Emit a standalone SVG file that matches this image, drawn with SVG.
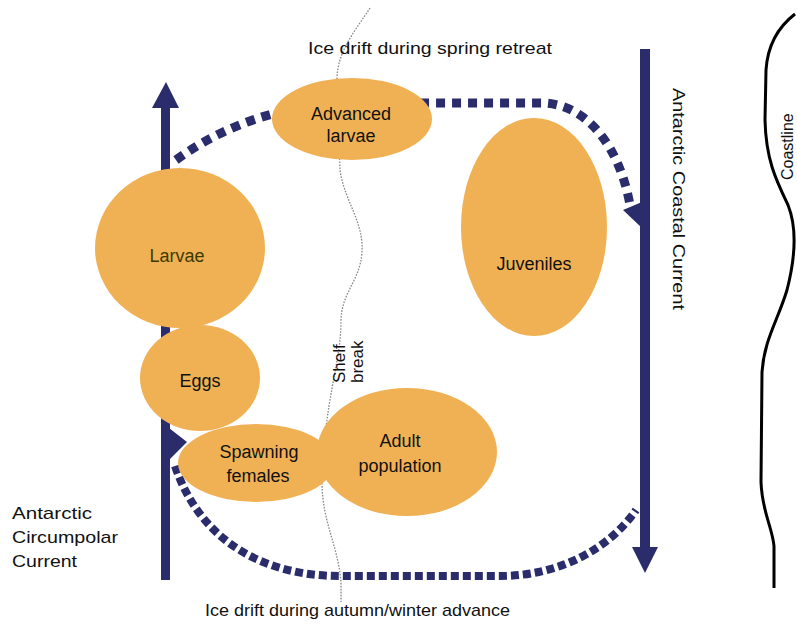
<svg xmlns="http://www.w3.org/2000/svg" width="797" height="627" viewBox="0 0 797 627">
<style>
text{font-family:"Liberation Sans",Arial,sans-serif;fill:#111}
.lbl{font-size:18px;text-anchor:middle}
.side{font-size:17px}
.node{fill:#F0B155}
.cur{fill:#2A2C6C}
.drift{fill:none;stroke:#2A2C6C}
</style>
<rect width="797" height="627" fill="#fff"/>
<g id="coastline">
<path d="M795,14 C782,24 768,40 766,70 L765,120 C766,160 776,180 788,205 C796,225 796,255 787,290 C778,320 764,340 762,372 L761,482 C762,512 772,526 774,546 L774,588" fill="none" stroke="#000" stroke-width="3"/>
<text class="side" transform="translate(793,180) rotate(-90)" style="font-size:16px">Coastline</text>
</g>
<g id="shelf-break">
<path d="M370,8 C356,30 336,52 337,82 L340,170 C344,200 364,222 362,252 C360,282 341,292 341,322 C341,362 324,402 322,482 C322,522 338,545 341,582 L341,602" fill="none" stroke="#888" stroke-width="1.3" stroke-dasharray="1.6 1.4"/>
</g>
<g id="connectors">
<path class="drift" d="M176,160 C228,122 290,104 350,103 L545,103 C590,106 620,150 630,205" stroke-width="9" stroke-dasharray="9 7"/>
<path class="drift" d="M175,466 C200,540 262,576 340,576 L500,576 C560,576 610,548 636,510" stroke-width="8" stroke-dasharray="8 4"/>
<rect class="cur" x="161" y="104" width="9" height="476"/>
<polygon class="cur" points="166,82 179,108 152,108"/>
<polygon class="cur" points="169,428 187,442 169,460"/>
<rect class="cur" x="640" y="49" width="10" height="500"/>
<polygon class="cur" points="645,573 632,547 658,547"/>
<polygon class="cur" points="623,210 642,202 642,228"/>
</g>
<g id="larvae"><ellipse class="node" cx="180" cy="248" rx="85" ry="80"/><text class="lbl" x="177" y="262" style="fill:#3a3a00">Larvae</text></g>
<g id="eggs"><ellipse class="node" cx="200" cy="378" rx="60" ry="53"/><text class="lbl" x="200" y="387">Eggs</text></g>
<g id="adult-population"><ellipse class="node" cx="407" cy="452" rx="90" ry="64"/><text class="lbl" x="400" y="447">Adult</text><text class="lbl" x="400" y="472">population</text></g>
<g id="spawning-females"><ellipse class="node" cx="256" cy="463" rx="78" ry="39"/><text class="lbl" x="259" y="458">Spawning</text><text class="lbl" x="258" y="482">females</text></g>
<g id="advanced-larvae"><ellipse class="node" cx="352" cy="119" rx="80" ry="41"/><text class="lbl" x="351" y="120">Advanced</text><text class="lbl" x="351" y="142">larvae</text></g>
<g id="juveniles"><ellipse class="node" cx="534" cy="227" rx="73" ry="109"/><text class="lbl" x="534" y="270">Juveniles</text></g>
<g id="labels">
<text class="side" x="308" y="54" textLength="244" lengthAdjust="spacingAndGlyphs">Ice drift during spring retreat</text>
<text class="side" x="205" y="616" textLength="305" lengthAdjust="spacingAndGlyphs">Ice drift during autumn/winter advance</text>
<text class="side" transform="translate(673,88) rotate(90)" textLength="222" lengthAdjust="spacingAndGlyphs">Antarctic Coastal Current</text>
<text class="side" x="12" y="519" textLength="80" lengthAdjust="spacingAndGlyphs">Antarctic</text>
<text class="side" x="12" y="543" textLength="106" lengthAdjust="spacingAndGlyphs">Circumpolar</text>
<text class="side" x="12" y="567" textLength="65" lengthAdjust="spacingAndGlyphs">Current</text>
<text class="side" transform="translate(345,383) rotate(-90)">Shelf</text>
<text class="side" transform="translate(363,383) rotate(-90)">break</text>
</g>
</svg>
